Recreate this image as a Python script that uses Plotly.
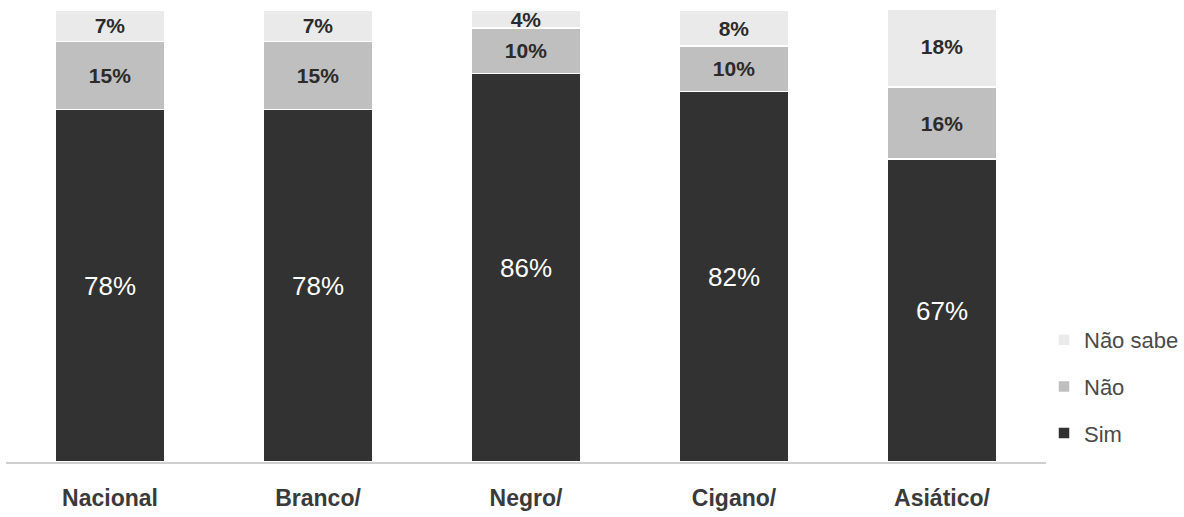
import plotly.graph_objects as go

# Survey answers by group (percent of respondents)
categories = ["Nacional", "Branco/", "Negro/", "Cigano/", "Asiático/"]
sim = [78, 78, 86, 82, 67]
nao = [15, 15, 10, 10, 16]
nao_sabe = [7, 7, 4, 8, 18]

NARROW = "Liberation Sans Narrow, Arial Narrow, Liberation Sans, Arial, sans-serif"
REGULAR = "Liberation Sans, Arial, sans-serif"

# (name, values, colour, label font, legend rank) - stacked bottom to top
series = [
    ("Sim", sim, "#323232", dict(family=REGULAR, size=26, color="#ffffff"), 3),
    ("Não", nao, "#bfbfbf", dict(family=NARROW, size=21, color="#2b2b2b", weight="bold"), 2),
    ("Não sabe", nao_sabe, "#eaeaea", dict(family=NARROW, size=21, color="#2b2b2b", weight="bold"), 1),
]

fig = go.Figure()
for name, values, color, tfont, rank in series:
    fig.add_trace(go.Bar(
        name=name,
        x=categories,
        y=values,
        legendgroup=name,
        legendrank=rank,
        marker=dict(color=color, line=dict(color="#ffffff", width=1.5)),
        text=values,
        texttemplate="%{y}%",
        textposition="inside",
        insidetextanchor="middle",
        constraintext="none",
        textfont=tfont,
        hoverinfo="skip",
    ))

fig.update_layout(
    barmode="stack",
    bargap=0.476,
    width=1184,
    height=517,
    margin=dict(l=6, r=138, t=10, b=55, autoexpand=False),
    paper_bgcolor="#ffffff",
    plot_bgcolor="#ffffff",
    showlegend=True,
    legend=dict(
        traceorder="grouped",
        tracegroupgap=15,
        xref="container",
        yref="container",
        x=1044 / 1184,
        y=1 - 319 / 517,
        xanchor="left",
        yanchor="top",
        font=dict(family=REGULAR, size=22, color="#4a4a4a"),
        bgcolor="rgba(0,0,0,0)",
        itemclick=False,
    ),
    xaxis=dict(
        showline=True,
        linecolor="#cfcfcf",
        linewidth=2,
        ticks="",
        showgrid=False,
        tickfont=dict(family=NARROW, size=23, color="#3a3a3a", weight="bold"),
        ticklabelstandoff=14,
    ),
    yaxis=dict(
        range=[0, 100],
        visible=False,
        showgrid=False,
    ),
)

fig.write_html("out.html")
